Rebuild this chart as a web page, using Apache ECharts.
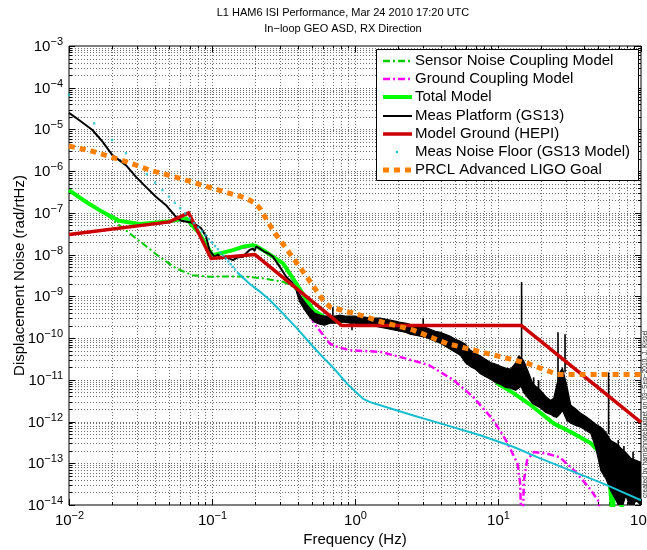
<!DOCTYPE html>
<html>
<head>
<meta charset="utf-8">
<script src="https://cdn.jsdelivr.net/npm/echarts@6/dist/echarts.min.js"></script>
<style>
  html, body { margin: 0; padding: 0; background: #fff; }
  #chart { width: 647px; height: 550px; }
</style>
</head>
<body>
<div id="chart"></div>
<script>
// ---- axis decades and minor tick multipliers ----
const xDecades = [0.01, 0.1, 1, 10, 100];
const yDecades = [1e-14, 1e-13, 1e-12, 1e-11, 1e-10, 1e-9, 1e-8, 1e-7, 1e-6, 1e-5, 1e-4, 1e-3];
const minorSteps = [2, 3, 4, 5, 6, 7, 8, 9];

// ---- model curves: [frequency Hz, displacement noise rad/rtHz] ----
const sensorCoupling = [
  [0.01, 3.5e-7], [0.0131, 1.85e-7], [0.0171, 1.06e-7], [0.0191, 8.1e-8], [0.0224, 5.1e-8],
  [0.0327, 1.86e-8], [0.0428, 8.9e-9], [0.056, 4.7e-9], [0.073, 3.2e-9], [0.0957, 2.95e-9],
  [0.125, 3.0e-9], [0.174, 2.95e-9], [0.228, 2.7e-9], [0.314, 2.24e-9], [0.37, 1.7e-9],
  [0.45, 8e-10], [0.51, 4.6e-10], [0.668, 2.5e-10], [1, 2.5e-10], [2, 1.9e-10], [4, 9.5e-11],
  [6, 3.8e-11], [9, 1.2e-11], [12.6, 4.8e-12], [18.8, 1.86e-12], [24.6, 8.9e-13], [32.3, 5.6e-13],
  [44.6, 3e-13], [55.5, 1.4e-13], [60, 4.5e-14], [62, 1.2e-14], [63.5, 3e-15], [64.5, 2.5e-14],
  [67, 2e-14], [72, 1.1e-14], [80, 4e-15]
];

const groundCoupling = [
  [0.01, 3e-8], [0.05, 6e-8], [0.066, 7.2e-8], [0.082, 3.1e-8], [0.101, 9.5e-9], [0.14, 1.25e-8],
  [0.193, 1.65e-8], [0.228, 1.25e-8], [0.314, 6e-9], [0.39, 1.8e-9], [0.458, 4.7e-10],
  [0.54, 1.86e-10], [0.667, 7.4e-11], [0.75, 6.2e-11], [0.92, 5.1e-11], [1.5, 4.7e-11],
  [2.3, 3.2e-11], [3.3, 2.24e-11], [4.9, 9.8e-12], [6.7, 3.9e-12], [9.3, 1.07e-12],
  [11.4, 3.5e-13], [13.7, 9.8e-14], [14.3, 3.2e-14], [14.7, 1e-15], [15.2, 4e-14], [16, 1.2e-13],
  [17.8, 1.86e-13], [22, 1.7e-13], [27, 1.4e-13], [34, 6.8e-14], [43, 2.7e-14], [50, 1.3e-14],
  [54, 3e-15]
];

const totalModel = [
  [0.01, 3.5e-7], [0.0131, 1.85e-7], [0.0171, 1.06e-7], [0.0224, 6.5e-8], [0.031, 5.4e-8],
  [0.0477, 6.1e-8], [0.066, 7.4e-8], [0.0816, 3.2e-8], [0.101, 9.7e-9], [0.14, 1.28e-8],
  [0.164, 1.54e-8], [0.193, 1.69e-8], [0.204, 1.6e-8], [0.228, 1.28e-8], [0.314, 6.2e-9],
  [0.39, 2.0e-9], [0.51, 4.7e-10], [0.668, 2.6e-10], [0.8, 2.7e-10], [1, 2.6e-10],
  [1.5, 2.3e-10], [2, 1.95e-10], [3, 1.4e-10], [4, 1.0e-10], [5, 6.5e-11], [6, 4.0e-11],
  [7, 2.6e-11], [8, 1.7e-11], [9, 1.25e-11], [10, 8e-12], [12.6, 5.0e-12], [16.4, 2.7e-12],
  [18.8, 1.86e-12], [24.6, 8.9e-13], [32.3, 5.6e-13], [44.6, 3e-13], [55.5, 1.4e-13],
  [60, 4.5e-14], [62, 1.2e-14], [63.5, 3e-15], [64.5, 2.5e-14], [67, 2e-14], [72, 1.1e-14],
  [80, 4e-15]
];

// ---- measured platform motion (GS13) ----
const measLowFreq = [
  [0.01, 2.5e-5], [0.01175, 1.68e-5], [0.01458, 9.7e-6], [0.01714, 5.1e-6], [0.0201, 2.43e-6],
  [0.025, 1.4e-6], [0.0294, 7.3e-7], [0.0345, 4.2e-7], [0.0405, 2.43e-7], [0.0477, 1.53e-7],
  [0.0546, 8.8e-8], [0.0608, 6.5e-8], [0.0733, 5.8e-8], [0.0839, 4.3e-8], [0.091, 2.7e-8],
  [0.0959, 1.29e-8], [0.104, 8.9e-9], [0.11, 1.0e-8], [0.116, 8.2e-9], [0.125, 8.9e-9],
  [0.133, 8.0e-9], [0.14, 7.4e-9], [0.15, 8.5e-9], [0.164, 8.9e-9], [0.172, 1.05e-8],
  [0.183, 1.29e-8], [0.193, 1.4e-8], [0.198, 1.25e-8], [0.204, 1.55e-8], [0.212, 1.45e-8],
  [0.233, 1.17e-8], [0.25, 1.05e-8], [0.267, 8.9e-9], [0.298, 5.1e-9], [0.33, 2.95e-9],
  [0.36, 2.2e-9], [0.39, 1.45e-9]
];
// noisy high-frequency part: upper and lower extent of the trace
const measBandFreq = [
  0.39, 0.411, 0.446, 0.483, 0.524, 0.568, 0.615, 0.668, 0.724, 0.785, 0.851, 0.922, 1.0, 1.084,
  1.175, 1.274, 1.381, 1.497, 1.624, 1.76, 1.908, 2.068, 2.243, 2.431, 2.636, 2.857, 3.097, 3.357,
  3.64, 3.946, 4.281, 4.641, 5.031, 5.454, 5.912, 6.409, 6.948, 7.532, 8.166, 8.852, 9.597, 10.42,
  11.29, 12.24, 13.27, 13.93, 14.5, 15.1, 16.11, 17.47, 18.32, 19.86, 21.54, 23.35, 24.52, 25.73,
  27.02, 28.22, 30.25, 32.29, 34.99, 37.93, 41.12, 44.57, 48.31, 52.36, 56.75, 61.52, 66.83, 72.44,
  78.52, 85.11, 92.26, 100
];
const measBandUpper = [
  1.57e-9, 1.07e-9, 7.3e-10, 5.2e-10, 3.95e-10, 3.54e-10, 3.35e-10, 3.35e-10, 3.35e-10, 3.54e-10,
  3.35e-10, 3.35e-10, 3.35e-10, 3.17e-10, 3.17e-10, 3.0e-10, 3.0e-10, 3.0e-10, 2.84e-10, 2.69e-10,
  2.54e-10, 2.4e-10, 2.28e-10, 2.15e-10, 2.04e-10, 1.93e-10, 1.82e-10, 1.63e-10, 1.46e-10, 1.38e-10,
  1.24e-10, 1.11e-10, 9.4e-11, 8.4e-11, 7.1e-11, 5.1e-11, 4.3e-11, 3.7e-11, 3.1e-11, 2.6e-11,
  2.4e-11, 2.1e-11, 1.9e-11, 1.8e-11, 2.5e-11, 3.7e-11, 3.4e-11, 2.9e-11, 1.7e-11, 8.3e-12,
  7.0e-12, 5.6e-12, 4.0e-12, 3.2e-12, 3.6e-12, 7.4e-12, 1.5e-11, 1.9e-11, 7.4e-12, 2.45e-12,
  2.0e-12, 1.57e-12, 1.33e-12, 1.07e-12, 8.6e-13, 7.3e-13, 5.5e-13, 3.5e-13, 3.0e-13, 2.3e-13,
  1.8e-13, 1.31e-13, 1.17e-13, 1.05e-13
];
const measBandLower = [
  1.26e-9, 7.3e-10, 4.7e-10, 3.17e-10, 2.4e-10, 2.15e-10, 2.04e-10, 2.28e-10, 2.28e-10, 2.4e-10,
  2.4e-10, 2.28e-10, 2.28e-10, 2.15e-10, 2.04e-10, 2.04e-10, 1.93e-10, 1.82e-10, 1.73e-10, 1.63e-10,
  1.55e-10, 1.46e-10, 1.38e-10, 1.24e-10, 1.17e-10, 1.11e-10, 1.05e-10, 9.4e-11, 8.4e-11, 7.5e-11,
  6.4e-11, 5.4e-11, 4.6e-11, 3.9e-11, 2.6e-11, 2.1e-11, 1.8e-11, 1.4e-11, 1.2e-11, 1.03e-11,
  8.7e-12, 7.8e-12, 6.6e-12, 6.3e-12, 5.6e-12, 6.3e-12, 7.0e-12, 5.0e-12, 3.8e-12, 2.7e-12,
  2.45e-12, 2.1e-12, 1.66e-12, 1.49e-12, 1.33e-12, 1.26e-12, 1.49e-12, 1.86e-12, 1.07e-12, 9.1e-13,
  8.1e-13, 7.3e-13, 6.2e-13, 5.2e-13, 2.3e-13, 6.7e-14, 4.3e-14, 2.2e-14, 1.3e-14, 7.4e-15,
  1.7e-14, 7.4e-15, 1.3e-14, 9.8e-15
];
// narrow lines in the spectrum: [frequency, from, to]
const measLines = [
  [0.70, 3.35e-10, 5.5e-10], [0.953, 2.28e-10, 1.55e-10], [3.0, 1.93e-10, 3.0e-10],
  [14.62, 2.9e-11, 2.2e-9], [17.75, 8e-12, 1.15e-11], [19.24, 6e-12, 9.8e-12],
  [26.28, 7e-12, 1.38e-10], [29.43, 1.5e-11, 1.24e-10], [59.33, 5e-13, 1.5e-11],
  [69.3, 2e-13, 3.6e-13], [76, 1.5e-13, 2.6e-13], [88, 1e-13, 1.9e-13]
];

// ---- HEPI ground model ----
const modelGround = [
  [0.01, 3.05e-8], [0.0503, 6.1e-8], [0.0687, 1.0e-7], [0.0986, 8.1e-9], [0.199, 1.01e-8],
  [0.81, 2.0e-10], [14.6, 2.0e-10], [100, 9.6e-13]
];

// ---- GS13 sensor noise floor (sampled every 0.005 Hz) ----
const noiseFloorDots = [
  [0.010, 6.7e-5], [0.015, 1.4e-5], [0.020, 5.6e-6], [0.025, 2.7e-6], [0.030, 1.45e-6],
  [0.035, 8.5e-7], [0.040, 5.3e-7], [0.045, 3.5e-7], [0.050, 2.45e-7], [0.055, 1.75e-7],
  [0.060, 1.3e-7], [0.065, 9.7e-8], [0.070, 7.4e-8], [0.075, 5.7e-8], [0.080, 4.5e-8],
  [0.085, 3.6e-8], [0.090, 2.9e-8], [0.095, 2.35e-8], [0.100, 1.95e-8], [0.105, 1.6e-8],
  [0.110, 1.35e-8], [0.115, 1.12e-8], [0.120, 9.5e-9], [0.125, 8.1e-9], [0.130, 6.9e-9],
  [0.135, 5.9e-9], [0.140, 5.1e-9], [0.145, 4.4e-9]
];
const noiseFloorLine = [
  [0.15, 3.8e-9], [0.183, 2.0e-9], [0.216, 1.3e-9], [0.25, 8.5e-10], [0.297, 4.7e-10],
  [0.4, 1.6e-10], [0.51, 6.2e-11], [0.6, 3.4e-11], [0.7, 2.0e-11], [0.88, 8.1e-12],
  [1.0, 5.3e-12], [1.14, 3.5e-12], [1.3, 2.85e-12], [1.5, 2.45e-12], [2.56, 1.4e-12],
  [4.4, 8.1e-13], [7.5, 4.7e-13], [12.9, 2.45e-13], [18.8, 1.4e-13], [55, 3.2e-14], [100, 1.3e-14]
];

// ---- Advanced LIGO PRCL goal ----
const prclGoal = [
  [0.01, 4e-6], [0.0146, 3e-6], [0.025, 1.7e-6], [0.0364, 1.07e-6], [0.0591, 6.8e-7],
  [0.101, 3.9e-7], [0.174, 2.24e-7], [0.2, 1.7e-7], [0.216, 1.3e-7], [0.267, 3.8e-8],
  [0.35, 1.07e-8], [0.458, 3e-9], [0.6, 8e-10], [0.668, 5.6e-10], [0.875, 4.3e-10],
  [1.0, 3.9e-10], [1.5, 2.5e-10], [2.56, 1.55e-10], [4.4, 7.4e-11], [7.5, 4.7e-11], [16, 2.5e-11],
  [26, 1.35e-11], [100, 1.35e-11]
];

const legendNames = [
  'Sensor Noise Coupling Model', 'Ground Coupling Model', 'Total Model', 'Meas Platform (GS13)',
  'Model Ground (HEPI)', 'Meas Noise Floor (GS13 Model)', 'PRCL Advanced LIGO Goal'
];
const titleLines = ['L1 HAM6 ISI Performance, Mar 24 2010 17:20 UTC', 'In\u2212loop GEO ASD, RX Direction'];
const creditText = 'created by hamishnotebudget on 03\u2212Sep\u22122010, J. Kissel';

// ---- styling ----
const FONT = '"Liberation Sans", Arial, Helvetica, sans-serif';
const C = {
  sensor: '#00cc00', ground: '#ff00ff', total: '#00ff00', meas: '#000000',
  hepi: '#cc0000', floor: '#17bfcf', prcl: '#ff8000', grid: '#6f6f6f'
};
const DASHDOT = [7, 3, 2, 3];
const DOTTED = [6, 5];

const X_MIN = xDecades[0], X_MAX = xDecades[xDecades.length - 1];
const Y_MIN = yDecades[0], Y_MAX = yDecades[yDecades.length - 1];

// grid lines: one entry for each decade and each minor multiple inside it
const gridItems = [];
[['x', xDecades], ['y', yDecades]].forEach(([axis, decs]) => {
  decs.forEach((d, i) => {
    gridItems.push({ axis, v: d, major: true });
    if (i < decs.length - 1) minorSteps.forEach(m => gridItems.push({ axis, v: d * m, major: false }));
  });
});

function powLabel(v) {
  const e = Math.round(Math.log10(v));
  return '{b|10}{s|' + (e < 0 ? '\u2212' + (-e) : String(e)) + '}';
}
const labelRich = {
  b: { fontSize: 15, fontFamily: FONT, fill: '#000', color: '#000' },
  s: { fontSize: 11, fontFamily: FONT, fill: '#000', color: '#000', padding: [0, 0, 10, 0] }
};

const chart = echarts.init(document.getElementById('chart'), null, { renderer: 'canvas' });

const lineSeries = (name, data, color, width, dash, z) => ({
  name, type: 'line', data, showSymbol: false, symbol: 'none', animation: false, z,
  lineStyle: { color, width, type: dash || 'solid', cap: 'butt', join: 'round' },
  silent: true
});

function buildLegendAndNotes() {
  const bx = 376, by = 49, bw = 262, bh = 131;
  const rowY0 = 61, rowStep = 18.2, lx1 = 383, lx2 = 412, tx = 415;
  const els = [{
    type: 'rect', shape: { x: bx + 0.5, y: by + 0.5, width: bw, height: bh },
    style: { fill: '#fff', stroke: '#000', lineWidth: 1 }, z: 100
  }];
  const icons = [
    { color: C.sensor, width: 2.5, dash: DASHDOT },
    { color: C.ground, width: 2.5, dash: DASHDOT },
    { color: C.total, width: 4 },
    { color: C.meas, width: 2 },
    { color: C.hepi, width: 3.5 },
    { dot: true, color: C.floor },
    { color: C.prcl, width: 5, dash: DOTTED }
  ];
  legendNames.forEach((name, i) => {
    const y = Math.round(rowY0 + i * rowStep);
    const ic = icons[i];
    if (ic.dot) {
      els.push({ type: 'circle', shape: { cx: 397, cy: y, r: 1.2 }, style: { fill: ic.color }, z: 101 });
    } else {
      els.push({
        type: 'line', shape: { x1: lx1, y1: y, x2: lx2, y2: y },
        style: { stroke: ic.color, lineWidth: ic.width, lineDash: ic.dash || null, lineCap: 'butt' }, z: 101
      });
    }
    els.push({
      type: 'text', x: tx, y: y,
      style: { text: name, fontSize: 15, fontFamily: FONT, fill: '#000', textAlign: 'left', textVerticalAlign: 'middle' },
      z: 101
    });
  });
  els.push({
    type: 'text', x: 645, y: 498, rotation: Math.PI / 2,
    style: { text: creditText, fontSize: 6.6, fontFamily: FONT, fill: '#222', textAlign: 'left', textVerticalAlign: 'middle' },
    z: 101
  });
  return els;
}

const option = {
  backgroundColor: '#fff',
  animation: false,
  title: {
    text: titleLines.join('\n'),
    left: 338, top: 0, textAlign: 'center',
    textStyle: { fontSize: 11, fontWeight: 'normal', fontFamily: FONT, color: '#000', lineHeight: 16 }
  },
  grid: {
    left: 69, right: 6, top: 46, bottom: 45, outerBoundsMode: 'none', containLabel: false,
    show: true, borderColor: '#000', borderWidth: 1, backgroundColor: 'transparent'
  },
  xAxis: {
    type: 'log', logBase: 10, min: X_MIN, max: X_MAX,
    name: 'Frequency (Hz)', nameLocation: 'middle', nameGap: 27,
    nameTextStyle: { fontSize: 15, fontFamily: FONT, color: '#000' },
    axisLine: { show: false }, axisTick: { show: false }, splitLine: { show: false },
    axisLabel: { show: false }
  },
  yAxis: {
    type: 'log', logBase: 10, min: Y_MIN, max: Y_MAX,
    name: 'Displacement Noise (rad/rtHz)', nameLocation: 'middle', nameGap: 42,
    nameTextStyle: { fontSize: 15, fontFamily: FONT, color: '#000' },
    axisLine: { show: false }, axisTick: { show: false }, splitLine: { show: false },
    axisLabel: { show: false }
  },
  series: [
    {
      // dotted grid, inward ticks on all four sides and decade labels
      type: 'custom', name: 'grid', silent: true, z: 1, clip: false,
      data: gridItems.map(() => [1, 1e-8]),
      renderItem(params, api) {
        const g = gridItems[params.dataIndex];
        const cs = params.coordSys;
        const L = g.major ? 6 : 3;
        const children = [];
        const tick = { stroke: '#000', lineWidth: 1 };
        const dotted = { stroke: C.grid, lineWidth: 1, lineDash: [1, 2] };
        if (g.axis === 'x') {
          const px = Math.round(api.coord([g.v, Y_MIN])[0]) + 0.5;
          const top = cs.y, bot = cs.y + cs.height;
          if (g.v > X_MIN && g.v < X_MAX) {
            children.push({ type: 'line', shape: { x1: px, y1: top, x2: px, y2: bot }, style: dotted });
          }
          children.push({ type: 'line', shape: { x1: px, y1: bot, x2: px, y2: bot - L }, style: tick });
          children.push({ type: 'line', shape: { x1: px, y1: top, x2: px, y2: top + L }, style: tick });
          if (g.major) {
            children.push({
              type: 'text', x: px, y: bot + 5,
              style: { text: powLabel(g.v), rich: labelRich, align: 'center', verticalAlign: 'top',
                       textAlign: 'center', textVerticalAlign: 'top', fontFamily: FONT, fill: '#000' }
            });
          }
        } else {
          const py = Math.round(api.coord([X_MIN, g.v])[1]) + 0.5;
          const lft = cs.x, rgt = cs.x + cs.width;
          if (g.v > Y_MIN && g.v < Y_MAX) {
            children.push({ type: 'line', shape: { x1: lft, y1: py, x2: rgt, y2: py }, style: dotted });
          }
          children.push({ type: 'line', shape: { x1: lft, y1: py, x2: lft + L, y2: py }, style: tick });
          children.push({ type: 'line', shape: { x1: rgt, y1: py, x2: rgt - L, y2: py }, style: tick });
          if (g.major) {
            children.push({
              type: 'text', x: lft - 6, y: py,
              style: { text: powLabel(g.v), rich: labelRich, align: 'right', verticalAlign: 'middle',
                       textAlign: 'right', textVerticalAlign: 'middle', fontFamily: FONT, fill: '#000' }
            });
          }
        }
        return { type: 'group', children };
      }
    },
    lineSeries(legendNames[0], sensorCoupling, C.sensor, 2, DASHDOT, 3),
    lineSeries(legendNames[1], groundCoupling, C.ground, 2.5, DASHDOT, 3),
    lineSeries(legendNames[2], totalModel, C.total, 4, null, 4),
    lineSeries(legendNames[3], measLowFreq, C.meas, 2, null, 5),
    {
      // noisy part of the measured spectrum, filled between its upper and lower extent
      type: 'custom', name: legendNames[3], silent: true, z: 5, clip: true,
      data: [[1, 1e-10]],
      renderItem(params, api) {
        const pts = [];
        for (let i = 0; i < measBandFreq.length; i++) pts.push(api.coord([measBandFreq[i], measBandUpper[i]]));
        for (let i = measBandFreq.length - 1; i >= 0; i--) pts.push(api.coord([measBandFreq[i], measBandLower[i]]));
        const children = [{ type: 'polygon', shape: { points: pts }, style: { fill: C.meas, stroke: C.meas, lineWidth: 1.2 } }];
        measLines.forEach(([f, a, b]) => {
          const p1 = api.coord([f, a]), p2 = api.coord([f, b]);
          children.push({ type: 'line', shape: { x1: p1[0], y1: p1[1], x2: p2[0], y2: p2[1] }, style: { stroke: C.meas, lineWidth: 1.6 } });
        });
        return { type: 'group', children };
      }
    },
    lineSeries(legendNames[4], modelGround, C.hepi, 3.5, null, 6),
    {
      name: legendNames[5], type: 'scatter', data: noiseFloorDots, symbol: 'rect', symbolSize: 2.4,
      itemStyle: { color: C.floor }, z: 7, silent: true, animation: false
    },
    lineSeries(legendNames[5], noiseFloorLine, C.floor, 2, null, 7),
    lineSeries(legendNames[6], prclGoal, C.prcl, 5, DOTTED, 8)
  ],
  graphic: buildLegendAndNotes()
};

chart.setOption(option);
</script>
</body>
</html>
